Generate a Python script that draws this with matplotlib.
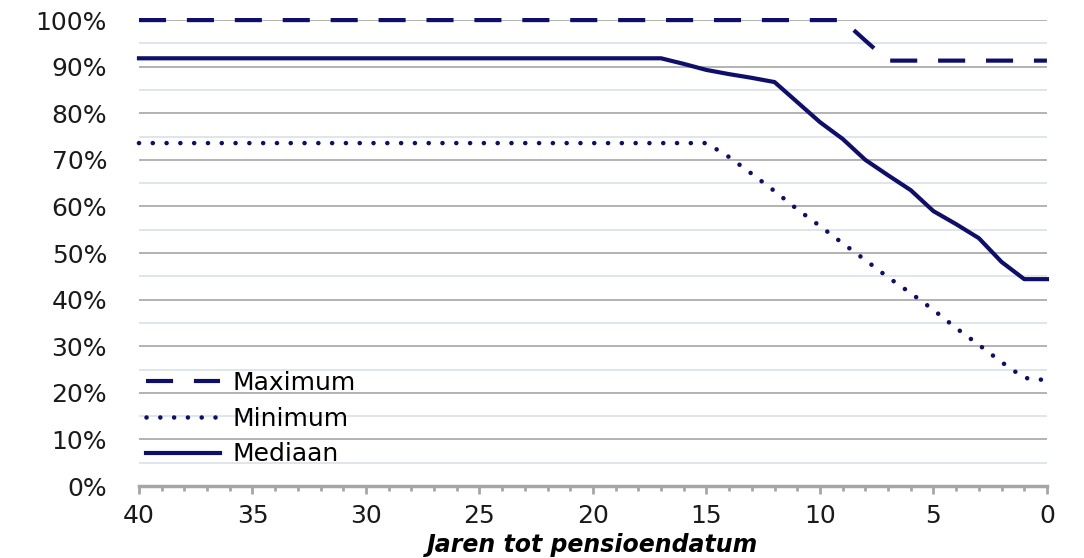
import matplotlib
matplotlib.use("Agg")
import matplotlib.pyplot as plt
from matplotlib.ticker import MultipleLocator, PercentFormatter

plt.rcParams['font.family'] = ['DejaVu Sans']

# Jaren tot pensioendatum (40 -> 0)
jaren = list(range(40, -1, -1))

# Maximum
maximum = [100.0] * 32 + [95.6, 91.3, 91.3, 91.3, 91.3, 91.3, 91.3, 91.3, 91.3]

# Minimum
minimum = [73.6] * 26 + [70.6, 67.0, 63.3, 59.4, 55.8, 52.1, 48.5, 44.8, 41.4,
                         37.8, 33.9, 30.3, 26.6, 23.2, 22.7]

# Mediaan
mediaan = [91.8] * 24 + [90.6, 89.3, 88.4, 87.6, 86.7, 82.4, 78.1, 74.5, 70.0,
                         66.7, 63.5, 59.0, 56.2, 53.2, 48.1, 44.4, 44.4]

kleur = '#0f0f6b'

fig = plt.figure(figsize=(10.84, 5.58), dpi=100)
ax = fig.add_axes([0.1282, 0.129, 0.8376, 0.835])

ax.plot(jaren, maximum, color=kleur, lw=3, dashes=(6.5, 5), label='Maximum',
        clip_on=False)
ax.plot(jaren, minimum, color=kleur, lw=3.3, dashes=(0.01, 3.0),
        dash_capstyle='round', label='Minimum', clip_on=False)
ax.plot(jaren, mediaan, color=kleur, lw=3, label='Mediaan', clip_on=False)

ax.set_xlim(40, 0)
ax.set_ylim(0, 100)

ax.yaxis.set_major_locator(MultipleLocator(10))
ax.yaxis.set_minor_locator(MultipleLocator(5))
ax.yaxis.set_major_formatter(PercentFormatter(decimals=0))
ax.xaxis.set_major_locator(MultipleLocator(5))
ax.xaxis.set_minor_locator(MultipleLocator(1))

ax.grid(True, which='major', axis='y', color='#a6a6a6', lw=1.2)
ax.grid(True, which='minor', axis='y', color='#d8e1e8', lw=1.2)
ax.set_axisbelow(True)

for s in ['top', 'right', 'left']:
    ax.spines[s].set_visible(False)
ax.spines['bottom'].set_color('#a6a6a6')
ax.spines['bottom'].set_linewidth(2.5)

ax.tick_params(axis='y', which='both', length=0, pad=23, labelsize=18, labelcolor='#1a1a1a')
ax.tick_params(axis='x', which='major', length=6, width=2, color='#a6a6a6',
               pad=7, labelsize=18, labelcolor='#1a1a1a')
ax.tick_params(axis='x', which='minor', length=3.5, width=2, color='#a6a6a6')

ax.set_xlabel('Jaren tot pensioendatum', fontsize=17, fontweight='bold',
              fontstyle='italic')
ax.xaxis.set_label_coords(0.5, -0.1)

ax.legend(loc='upper left', bbox_to_anchor=(0.008, 0.247), frameon=False,
          fontsize=18, handlelength=2.95, handletextpad=0.5, labelspacing=0.47,
          borderaxespad=0, borderpad=0)

fig.savefig('out.png', dpi=100)
